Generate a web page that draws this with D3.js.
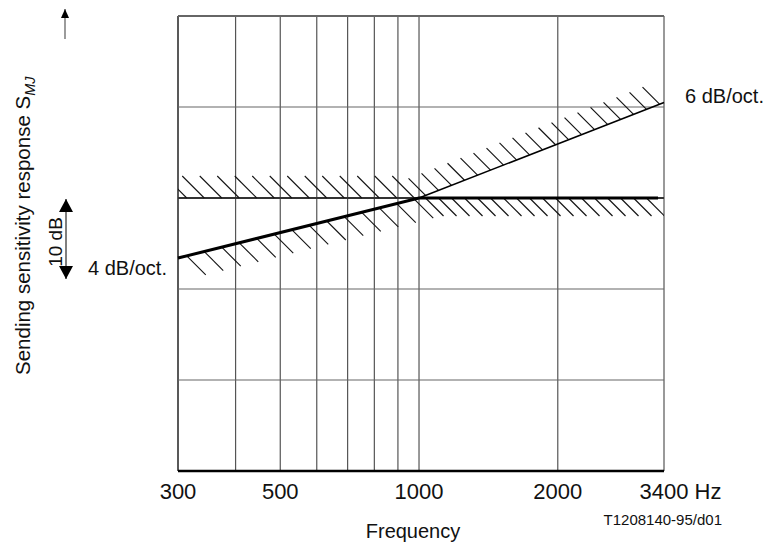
<!DOCTYPE html>
<html>
<head>
<meta charset="utf-8">
<script src="https://cdn.jsdelivr.net/npm/d3@7"></script>
<style>
  body { margin: 0; background: #fff; }
  text { font-family: "Liberation Sans", Arial, sans-serif; fill: #111; }
</style>
</head>
<body>
<div id="chart"></div>
<script>
var WIDTH = 767, HEIGHT = 545;

// frequency axis (log), Hz
var gridFreqs = [300, 400, 500, 600, 700, 800, 900, 1000, 2000, 3400];
var tickFreqs = [300, 500, 1000, 2000, 3400];
var tickLabels = ['300', '500', '1000', '2000', '3400 Hz'];
// level grid, dB relative to 1 kHz
var levelGrid = [-30, -20, -10, 0, 10, 20];

// upper limit: flat, then 6 dB/oct above 1 kHz
var upperFreq = [300, 1000, 3400];
var upperDb = [0, 0, 10.5];
// lower limit: 4 dB/oct up to 1 kHz, then flat
var lowerFreq = [300, 1000, 3300];
var lowerDb = [-6.6, 0, 0];

var margin = { left: 178, right: 103, top: 16, bottom: 74 };

var x = d3.scaleLog().domain([300, 3400]).range([margin.left, WIDTH - margin.right]);
var y = d3.scaleLinear().domain([-30, 20]).range([HEIGHT - margin.bottom, margin.top]);

var svg = d3.select('#chart').append('svg').attr('width', WIDTH).attr('height', HEIGHT);

var defs = svg.append('defs');
defs.append('clipPath').attr('id', 'plotclip')
  .append('rect')
  .attr('x', x(300)).attr('y', y(20))
  .attr('width', x(3400) - x(300)).attr('height', y(-30) - y(20));
defs.append('marker').attr('id', 'head').attr('viewBox', '0 0 13 14')
  .attr('refX', 13).attr('refY', 7).attr('markerWidth', 13).attr('markerHeight', 14)
  .attr('markerUnits', 'userSpaceOnUse').attr('orient', 'auto-start-reverse')
  .append('path').attr('d', 'M0,0 L13,7 L0,14 Z').attr('fill', '#000');
defs.append('marker').attr('id', 'smallhead').attr('viewBox', '0 0 9 8')
  .attr('refX', 9).attr('refY', 4).attr('markerWidth', 9).attr('markerHeight', 8)
  .attr('markerUnits', 'userSpaceOnUse').attr('orient', 'auto')
  .append('path').attr('d', 'M0,0 L9,4 L0,8 Z').attr('fill', '#000');

// grid
svg.append('g').selectAll('line')
  .data(gridFreqs)
  .enter().append('line')
  .attr('x1', function (d) { return x(d); }).attr('x2', function (d) { return x(d); })
  .attr('y1', y(20)).attr('y2', y(-30))
  .attr('stroke', function (d) { return d == 300 ? '#222' : '#555'; })
  .attr('stroke-width', function (d) { return d == 300 ? 1.5 : 1.2; });

svg.append('g').selectAll('line')
  .data(levelGrid)
  .enter().append('line')
  .attr('x1', x(300)).attr('x2', x(3400))
  .attr('y1', function (d) { return y(d); }).attr('y2', function (d) { return y(d); })
  .attr('stroke', function (d) { return d == -30 ? '#000' : (d == 0 ? '#333' : '#666'); })
  .attr('stroke-width', function (d) { return d == -30 ? 2.5 : (d == 0 || d == 20 ? 2 : 1.2); });

// hatching along a limit line, in pixels
function hatch(freqs, dbs, f0, f1, step, len, side) {
  var pts = freqs.map(function (f, i) { return [x(f), y(dbs[i])]; });
  var segs = [];
  for (var px = x(f0) + step / 2; px <= x(f1); px += step) {
    var py = null;
    for (var i = 0; i < pts.length - 1; i++) {
      if (px >= pts[i][0] && px <= pts[i + 1][0]) {
        var t = (px - pts[i][0]) / (pts[i + 1][0] - pts[i][0]);
        py = pts[i][1] + t * (pts[i + 1][1] - pts[i][1]);
      }
    }
    if (py === null) continue;
    segs.push([px, py, px + side * len, py + side * len]);
  }
  return segs;
}

var hatches = []
  .concat(hatch(upperFreq, upperDb, 300, 1000, 17.5, 22, -1))
  .concat(hatch(upperFreq, upperDb, 1000, 3400, 13, 17, -1))
  .concat(hatch(lowerFreq, lowerDb, 300, 1000, 17.5, 19, 1))
  .concat(hatch(lowerFreq, lowerDb, 1000, 3300, 13, 18, 1));

svg.append('g').attr('clip-path', 'url(#plotclip)')
  .selectAll('line')
  .data(hatches)
  .enter().append('line')
  .attr('x1', function (d) { return d[0]; }).attr('y1', function (d) { return d[1]; })
  .attr('x2', function (d) { return d[2]; }).attr('y2', function (d) { return d[3]; })
  .attr('stroke', '#111').attr('stroke-width', 1.1);

var line = d3.line()
  .x(function (d) { return x(d[0]); })
  .y(function (d) { return y(d[1]); });

svg.append('path')
  .datum(upperFreq.map(function (f, i) { return [f, upperDb[i]]; }).slice(1))
  .attr('d', line).attr('fill', 'none').attr('stroke', '#000').attr('stroke-width', 1.6);

svg.append('path')
  .datum(lowerFreq.map(function (f, i) { return [f, lowerDb[i]]; }))
  .attr('d', line).attr('fill', 'none').attr('stroke', '#000').attr('stroke-width', 3);

// x tick labels
var TICK_FS = 22;
svg.append('g').selectAll('text')
  .data(tickFreqs)
  .enter().append('text')
  .attr('x', function (d) { return x(d); })
  .attr('y', 499)
  .attr('text-anchor', function (d) { return d == 3400 ? 'start' : 'middle'; })
  .attr('dx', function (d) { return d == 3400 ? -1.112 * TICK_FS : 0; })
  .attr('font-size', TICK_FS)
  .text(function (d, i) { return tickLabels[i]; });

svg.append('text').attr('x', 413).attr('y', 538).attr('text-anchor', 'middle')
  .attr('font-size', 20).text('Frequency');
svg.append('text').attr('x', 722).attr('y', 525).attr('text-anchor', 'end')
  .attr('font-size', 15).text('T1208140-95/d01');

// y title
var yt = svg.append('text')
  .attr('transform', 'translate(29.5,375) rotate(-90)')
  .attr('text-anchor', 'start').attr('font-size', 20.5);
yt.append('tspan').text('Sending sensitivity response S');
yt.append('tspan').attr('font-style', 'italic').attr('font-size', 14.5).attr('dy', 5).text('MJ');

svg.append('line').attr('x1', 65).attr('x2', 65).attr('y1', 39).attr('y2', 9)
  .attr('stroke', '#666').attr('stroke-width', 1.3).attr('marker-end', 'url(#smallhead)');

// 10 dB scale bar
svg.append('line').attr('x1', 66).attr('x2', 66).attr('y1', 199).attr('y2', 279)
  .attr('stroke', '#555').attr('stroke-width', 1.5)
  .attr('marker-start', 'url(#head)').attr('marker-end', 'url(#head)');
svg.append('text').attr('transform', 'translate(62,242) rotate(-90)')
  .attr('text-anchor', 'middle').attr('font-size', 19).text('10 dB');

svg.append('text').attr('x', 88).attr('y', 275).attr('font-size', 20).text('4 dB/oct.');
svg.append('text').attr('x', 685).attr('y', 103).attr('font-size', 20).text('6 dB/oct.');
</script>
</body>
</html>
